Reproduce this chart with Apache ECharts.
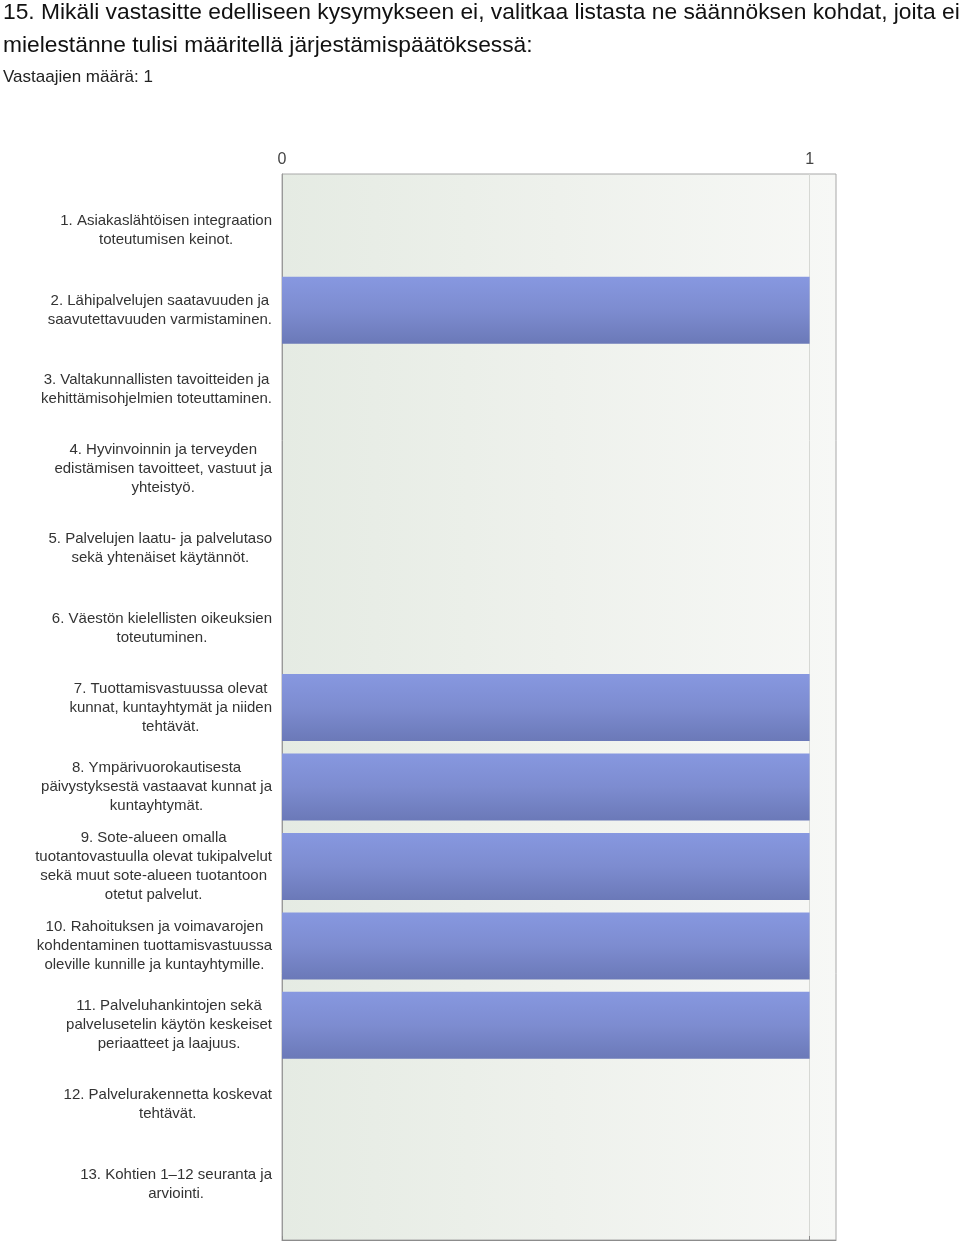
<!DOCTYPE html>
<html><head><meta charset="utf-8">
<script src="https://cdn.jsdelivr.net/npm/echarts@6/dist/echarts.min.js"></script>
<style>html,body{margin:0;padding:0;background:#fff}#c{width:960px;height:1245px}</style>
</head><body><div id="c"></div>
<script>
const titleText = "15. Mikäli vastasitte edelliseen kysymykseen ei, valitkaa listasta ne säännöksen kohdat, joita ei\nmielestänne tulisi määritellä järjestämispäätöksessä:";
const subtitleText = "Vastaajien määrä: 1";
const categories = [
  "1. Asiakaslähtöisen integraation\ntoteutumisen keinot.",
  "2. Lähipalvelujen saatavuuden ja\nsaavutettavuuden varmistaminen.",
  "3. Valtakunnallisten tavoitteiden ja\nkehittämisohjelmien toteuttaminen.",
  "4. Hyvinvoinnin ja terveyden\nedistämisen tavoitteet, vastuut ja\nyhteistyö.",
  "5. Palvelujen laatu- ja palvelutaso\nsekä yhtenäiset käytännöt.",
  "6. Väestön kielellisten oikeuksien\ntoteutuminen.",
  "7. Tuottamisvastuussa olevat\nkunnat, kuntayhtymät ja niiden\ntehtävät.",
  "8. Ympärivuorokautisesta\npäivystyksestä vastaavat kunnat ja\nkuntayhtymät.",
  "9. Sote-alueen omalla\ntuotantovastuulla olevat tukipalvelut\nsekä muut sote-alueen tuotantoon\notetut palvelut.",
  "10. Rahoituksen ja voimavarojen\nkohdentaminen tuottamisvastuussa\noleville kunnille ja kuntayhtymille.",
  "11. Palveluhankintojen sekä\npalvelusetelin käytön keskeiset\nperiaatteet ja laajuus.",
  "12. Palvelurakennetta koskevat\ntehtävät.",
  "13. Kohtien 1–12 seuranta ja\narviointi."
];
const values = [0, 1, 0, 0, 0, 0, 1, 1, 1, 1, 1, 0, 0];
const xTicks = [0, 1];
const xMax = 1.05;

const font = "'Liberation Sans', Arial, sans-serif";
const chart = echarts.init(document.getElementById('c'), null, {renderer: 'canvas'});
chart.setOption({
  animation: false,
  backgroundColor: '#ffffff',
  title: [
    {text: titleText, left: 3, top: -4, padding: 0,
     textStyle: {fontSize: 22.8, fontWeight: 'normal', lineHeight: 33, color: '#111', fontFamily: font}},
    {text: subtitleText, left: 3, top: 67, padding: 0,
     textStyle: {fontSize: 17, fontWeight: 'normal', lineHeight: 20, color: '#222', fontFamily: font}}
  ],
  grid: [
    {left: 282, right: 124, top: 174, bottom: 5, show: true,
     borderColor: '#a8a8a8', borderWidth: 1,
     backgroundColor: new echarts.graphic.LinearGradient(0, 0, 1, 0, [
       {offset: 0, color: '#e5ebe3'},
       {offset: 0.5, color: '#eef1ec'},
       {offset: 1, color: '#f7f8f6'}
     ])},
    {left: 282, right: 124, top: 191, height: 1033}
  ],
  xAxis: [
    {gridIndex: 0, type: 'value', position: 'top', min: 0, max: xMax,
     axisLine: {show: true, lineStyle: {color: '#8c8c8c', width: 1}},
     axisTick: {show: true, length: 4, customValues: xTicks, lineStyle: {color: '#8c8c8c'}},
     axisLabel: {customValues: xTicks, margin: 6, fontSize: 16, color: '#444', fontFamily: font},
     splitLine: {show: true, lineStyle: {color: '#d6d8d4', width: 1}}},
    {gridIndex: 1, type: 'value', min: 0, max: xMax, show: false}
  ],
  yAxis: [
    {gridIndex: 0, type: 'value', min: 0, max: 1, show: true,
     axisLine: {show: true, lineStyle: {color: '#999'}},
     axisTick: {show: false}, axisLabel: {show: false}, splitLine: {show: false}},
    {gridIndex: 1, type: 'category', inverse: true, data: categories,
     axisLine: {show: false}, axisTick: {show: false}, splitLine: {show: false},
     axisLabel: {
       margin: 10, interval: 0,
       formatter: v => v.split('\n').map(l => '{c|' + l + '}').join('\n'),
       rich: {c: {align: 'center', fontSize: 15, lineHeight: 19, color: '#333', fontFamily: font}}
     }}
  ],
  series: [{
    type: 'bar', xAxisIndex: 1, yAxisIndex: 1, data: values, barWidth: 67,
    itemStyle: {
      color: new echarts.graphic.LinearGradient(0, 0, 0, 1, [
        {offset: 0, color: '#8798e0'},
        {offset: 0.5, color: '#7d8cd0'},
        {offset: 1, color: '#6b79b8'}
      ])
    }
  }]
});
</script>
</body></html>
